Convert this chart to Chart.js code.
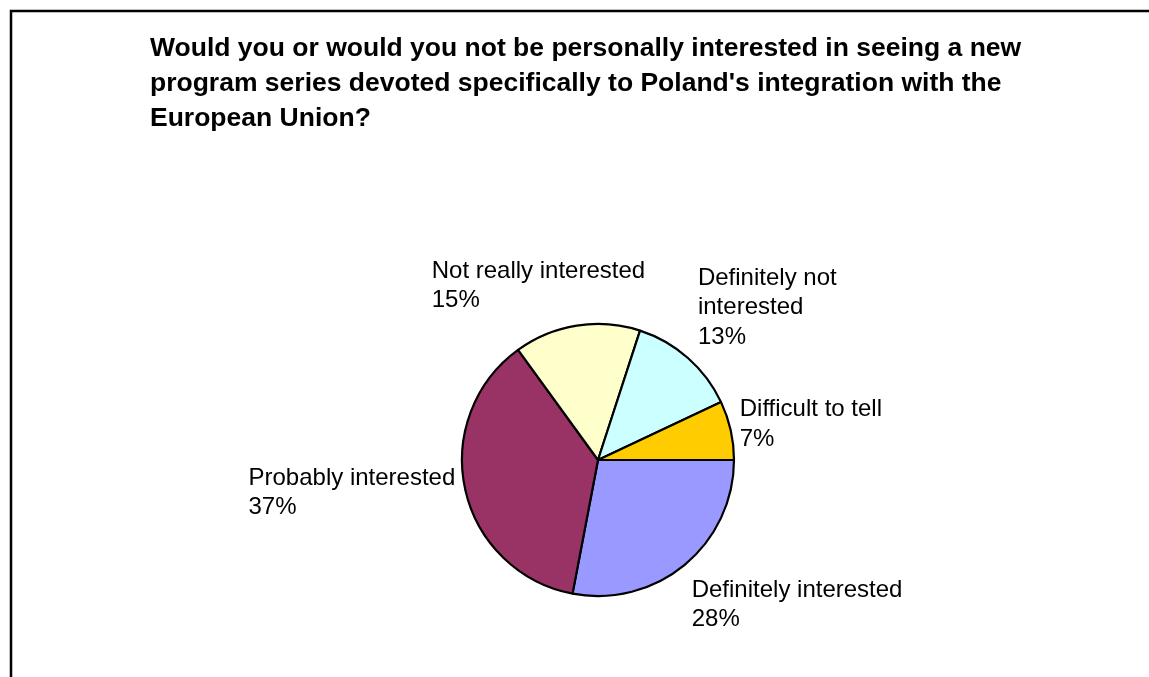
<!DOCTYPE html>
<html>
<head>
<meta charset="utf-8">
<script src="https://cdn.jsdelivr.net/npm/chart.js@4/dist/chart.umd.min.js"></script>
<style>
  html, body { margin: 0; padding: 0; background: #fff; }
  canvas { display: block; }
</style>
</head>
<body>
<canvas id="chart" width="1149" height="677"></canvas>
<script>
// survey answers, clockwise from 3 o'clock
const categories = [
  'Definitely interested',
  'Probably interested',
  'Not really interested',
  ['Definitely not', 'interested'],
  'Difficult to tell',
];
const values = [28, 37, 15, 13, 7];
const sliceColors = ['#9999FF', '#993366', '#FFFFCC', '#CCFFFF', '#FFCC00'];

const titleLines = [
  'Would you or would you not be personally interested in seeing a new',
  "program series devoted specifically to Poland's integration with the",
  'European Union?',
];

// label placement, relative to the point where the slice's middle meets the rim
// 'left' = text block sits left of that point (lines stay left aligned)
const labelSide = ['right', 'left', 'right', 'right', 'right'];
const labelNudge = [[7, 32], [-10, -5], [-145, -48], [10, -73], [9, -14]];
const labelLineHeight = 29.5;

const frame = {
  id: 'frame',
  beforeDraw(chart) {
    const ctx = chart.ctx;
    ctx.save();
    ctx.fillStyle = '#fff';
    ctx.fillRect(0, 0, chart.width, chart.height);
    ctx.strokeStyle = '#000';
    ctx.lineWidth = 2.5;
    ctx.strokeRect(11, 11, chart.width + 40, chart.height + 40);
    ctx.restore();
  },
};

const sliceLabels = {
  id: 'sliceLabels',
  afterDatasetsDraw(chart) {
    const ctx = chart.ctx;
    const meta = chart.getDatasetMeta(0);
    ctx.save();
    ctx.fillStyle = '#000';
    ctx.font = '24px Arial, "Liberation Sans", sans-serif';
    ctx.textBaseline = 'alphabetic';
    ctx.textAlign = 'left';
    meta.data.forEach((arc, i) => {
      const p = arc.getProps(['x', 'y', 'startAngle', 'endAngle', 'outerRadius'], true);
      const mid = (p.startAngle + p.endAngle) / 2;
      const ax = p.x + Math.cos(mid) * p.outerRadius;
      const ay = p.y + Math.sin(mid) * p.outerRadius;
      const [dx, dy] = labelNudge[i];
      const lines = [].concat(categories[i], values[i] + '%');
      let left = ax + dx;
      if (labelSide[i] === 'left') {
        left -= Math.max(...lines.map((t) => ctx.measureText(t).width));
      }
      lines.forEach((t, k) => ctx.fillText(t, left, ay + dy + k * labelLineHeight));
    });
    ctx.restore();
  },
};

new Chart(document.getElementById('chart'), {
  type: 'pie',
  data: {
    labels: categories,
    datasets: [{
      data: values,
      backgroundColor: sliceColors,
      borderColor: '#000',
      borderWidth: 2.2,
    }],
  },
  options: {
    responsive: false,
    animation: false,
    rotation: 90,
    radius: 136,
    layout: { padding: { left: 150, right: 103, top: 0, bottom: 81 } },
    plugins: {
      legend: { display: false },
      tooltip: { enabled: false },
      title: {
        display: true,
        text: titleLines,
        align: 'start',
        color: '#000',
        font: { family: 'Arial, "Liberation Sans", sans-serif', size: 26.5, weight: 'bold', lineHeight: 35 / 26.5 },
        padding: { top: 31, bottom: 188 },
      },
    },
  },
  plugins: [frame, sliceLabels],
});
</script>
</body>
</html>
